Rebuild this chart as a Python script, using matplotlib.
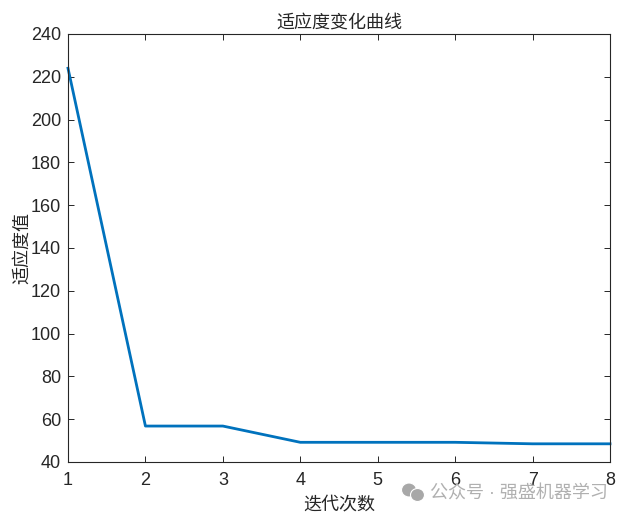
import matplotlib
matplotlib.use("Agg")
import matplotlib.pyplot as plt
from matplotlib.patches import Ellipse

plt.rcParams["font.family"] = ["Liberation Sans", "Noto Sans CJK SC", "DejaVu Sans"]

iterations = [1, 2, 3, 4, 5, 6, 7, 8]
fitness = [224, 56.8, 56.8, 49.2, 49.2, 49.2, 48.5, 48.5]
x_ticks = [1, 2, 3, 4, 5, 6, 7, 8]
y_ticks = [40, 60, 80, 100, 120, 140, 160, 180, 200, 220, 240]

W, H = 629, 517
fig = plt.figure(figsize=(W / 100, H / 100), dpi=100)
ax = fig.add_axes([68 / W, 1 - 462 / H, (610 - 68) / W, (462 - 34) / H])

ax.plot(iterations, fitness, color="#0072BD", linewidth=2.0, clip_on=False)

ax.set_xlim(1, 8)
ax.set_ylim(40, 240)
ax.set_xticks(x_ticks)
ax.set_yticks(y_ticks)
ax.tick_params(direction="in", top=True, right=True, labelsize=13, length=4.5, width=0.7, colors="#262626")
ax.tick_params(axis="x", pad=7.5)
ax.tick_params(axis="y", pad=5)
for spine in ax.spines.values():
    spine.set_linewidth(0.8)
    spine.set_color("#262626")

ax.set_title("适应度变化曲线", fontsize=13, color="#262626", pad=5)
ax.xaxis.set_label_coords(0.5, -(505 - 462) / (462 - 34), transform=ax.transAxes)
ax.set_xlabel("迭代次数", fontsize=13, color="#262626", va="center")
ax.set_ylabel("适应度值", fontsize=13, color="#262626", labelpad=0)

# watermark
fig.text(430 / W, 1 - 494 / H, "公众号 · 强盛机器学习", fontsize=13, color="#b0b0b0", va="center")
for cx, cy, rx, ry in [(409, 490, 7.5, 7), (417.5, 495, 7, 6.5)]:
    fig.add_artist(Ellipse((cx / W, 1 - cy / H), 2 * rx / W, 2 * ry / H, transform=fig.transFigure,
                           facecolor="#a8a8a8", edgecolor="white", linewidth=0.8))

plt.savefig("out.png", dpi=100)
